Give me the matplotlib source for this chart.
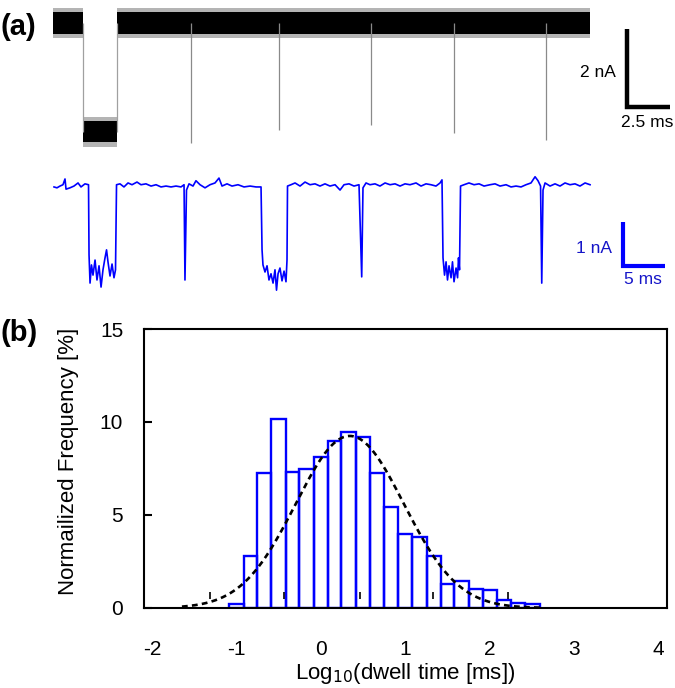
import numpy as np
import matplotlib
matplotlib.use("Agg")
import matplotlib.pyplot as plt

plt.rcParams['font.family'] = ['Liberation Sans', 'DejaVu Sans']
plt.rcParams['axes.unicode_minus'] = False

# (a) gorny slad pradu (czarny) - ms / nA
black_seg_start = [0.0, 1.73, 3.70]
black_seg_end = [1.73, 3.70, 31.04]
black_seg_level = [0.0, -2.79, 0.0]
black_noise_core = 0.27
black_noise_outer = 0.38
black_spike_t = [7.96, 13.06, 18.36, 23.18, 28.50]
black_spike_depth = [-3.08, -2.74, -2.62, -2.82, -3.00]

# (a) dolny slad pradu (niebieski) - ms / nA
blue_t = [0.0, 0.35, 0.71, 1.06, 1.30, 1.42, 1.89, 2.36, 2.84, 3.19, 3.66, 4.08,
          4.14, 4.26, 4.43, 4.61, 4.85, 5.08, 5.32, 5.56, 5.79, 6.03, 6.21, 6.38,
          6.62, 6.86, 7.09, 7.27, 7.39,
          7.80, 8.27, 8.75, 9.22, 9.81, 10.28, 10.87, 11.47, 12.06, 12.65, 13.24,
          13.83, 14.42, 15.01, 15.37,
          15.48, 15.66, 15.96, 16.43, 16.78, 17.26, 17.85, 18.44, 19.03, 19.50,
          19.86, 20.45, 21.04, 21.75, 22.46, 23.17, 23.88, 24.47,
          24.59, 24.70, 24.94, 25.18, 25.41, 25.65, 25.89, 26.12, 26.30, 26.48,
          26.71, 26.95, 27.19, 27.42, 27.54, 27.60,
          28.01, 28.49, 29.08, 29.67, 30.26, 30.85, 31.44, 32.03, 32.62, 33.22,
          33.81, 34.28, 34.87, 35.46, 36.05,
          36.37, 36.52, 36.88, 37.35, 37.94, 38.53, 39.13, 39.72, 40.31, 40.90,
          41.49, 42.08, 42.79, 43.38, 43.97, 44.56, 45.15, 45.63, 45.86,
          45.98, 46.16, 46.34, 46.51, 46.69, 46.93, 47.10, 47.28, 47.52, 47.70,
          47.81, 47.93, 48.05,
          48.46, 49.05, 49.65, 50.24, 50.83, 51.54, 52.13, 52.72, 53.43, 54.02,
          54.61, 55.20, 55.79, 56.38, 56.86, 57.21, 57.51,
          57.65, 57.80, 58.04, 58.63, 59.22, 59.81, 60.40, 60.99, 61.58, 62.17,
          62.77, 63.36]
blue_i = [0.0, -0.02, 0.02, 0.05, 0.18, -0.05, -0.02, 0.02, 0.09, 0.0, 0.07, 0.05,
          -1.53, -2.17, -1.76, -1.99, -1.65, -2.10, -1.78, -2.26, -1.87, -1.60, -1.42, -1.69,
          -2.01, -1.74, -2.05, -1.87, 0.05,
          0.07, 0.0, 0.09, 0.05, 0.11, 0.05, 0.07, 0.02, 0.05, 0.0, 0.02,
          0.0, 0.02, 0.0, 0.05,
          -2.10, -0.07, 0.07, 0.02, 0.14, 0.05, -0.02, 0.05, 0.09, 0.20,
          0.02, 0.07, 0.02, 0.05, 0.0, 0.02, 0.0, 0.0,
          -1.42, -1.76, -1.92, -1.78, -2.10, -1.96, -2.17, -1.87, -2.33, -1.96,
          -1.83, -2.12, -1.90, -2.14, -1.65, 0.02,
          0.05, 0.09, 0.02, 0.11, 0.05, 0.07, 0.02, 0.07, 0.02, 0.05,
          -0.07, 0.05, 0.07, 0.02, 0.05,
          -2.03, -0.02, 0.09, 0.05, 0.07, 0.02, 0.09, 0.05, 0.07, 0.02,
          0.07, 0.05, 0.09, 0.02, 0.07, 0.05, 0.02, 0.09, 0.16,
          -1.60, -1.99, -1.69, -2.10, -1.78, -2.05, -1.69, -2.14, -1.83, -2.05,
          -1.60, -1.87, 0.02,
          0.05, 0.09, 0.05, 0.07, 0.02, 0.05, 0.07, 0.02, 0.05, 0.0,
          0.02, 0.0, 0.05, 0.09, 0.23, 0.14, 0.02,
          -2.17, -0.07, 0.09, 0.02, 0.07, 0.02, 0.09, 0.05, 0.07, 0.02,
          0.09, 0.05]

# (b) histogram czasow przejscia
bin_edges = [-1.09, -0.92, -0.76, -0.59, -0.42, -0.26, -0.09, 0.08, 0.24, 0.41, 0.58,
             0.75, 0.91, 1.08, 1.25, 1.42, 1.58, 1.75, 1.92, 2.09, 2.25, 2.42, 2.59]
freq = [0.2, 2.8, 7.24, 10.16, 7.3, 7.47, 8.1, 9.0, 9.48, 9.18, 7.24, 5.45,
        3.98, 3.8, 2.81, 1.27, 1.45, 1.02, 0.95, 0.43, 0.29, 0.21]
# dopasowanie Gaussa
fit_amp = 9.25
fit_mu = 0.34
fit_sigma = 0.64
fit_range = (-1.65, 2.6)
marks_x = [-1.32, -0.44, 0.46, 1.33, 2.21]

fig = plt.figure(figsize=(6.75, 6.88), dpi=100)

# --- (a) czarny slad ---
ax1 = fig.add_axes([0.0785, 0.7674, 0.9215, 0.2326])
for t0, t1, lev in zip(black_seg_start, black_seg_end, black_seg_level):
    ax1.fill_between([t0, t1], lev - black_noise_outer, lev + black_noise_outer,
                     color='#b4b4b4', linewidth=0)
    ax1.fill_between([t0, t1], lev - black_noise_core, lev + black_noise_core,
                     color='black', linewidth=0)
ax1.vlines([black_seg_start[1], black_seg_end[1]], black_seg_level[1], 0,
           color='#a0a0a0', linewidth=0.9)
ax1.vlines(black_spike_t, black_spike_depth, 0, color='#8a8a8a', linewidth=0.9)
# skala 2 nA / 2.5 ms
ax1.plot([33.16, 33.16, 35.66], [-0.15, -2.15, -2.15], color='black',
         linewidth=3.2, solid_capstyle='butt', solid_joinstyle='miter')
ax1.text(32.54, -1.28, '2 nA', ha='right', va='center', fontsize=12.5)
ax1.text(34.34, -2.56, '2.5 ms', ha='center', va='center', fontsize=12.5)
ax1.set_xlim(0, 35.95)
ax1.set_ylim(-3.51, 0.59)
ax1.axis('off')

# --- (a) niebieski slad ---
ax2 = fig.add_axes([0.0785, 0.5640, 0.9215, 0.2035])
ax2.plot(blue_t, blue_i, color='#0000ff', linewidth=1.2)
ax2.plot([67.22, 67.22, 72.22], [-0.78, -1.78, -1.78], color='#0000ff',
         linewidth=3.0, solid_capstyle='butt', solid_joinstyle='miter')
ax2.text(65.92, -1.40, '1 nA', ha='right', va='center', fontsize=12.5, color='#1515c8')
ax2.text(69.62, -2.10, '5 ms', ha='center', va='center', fontsize=12.5, color='#1515c8')
ax2.set_xlim(-0.12, 73.4)
ax2.set_ylim(-2.551, 0.609)
ax2.axis('off')

# --- (b) histogram ---
ax3 = fig.add_axes([0.2133, 0.1163, 0.7748, 0.4055])
edges = np.array(bin_edges)
ax3.bar(edges[:-1], freq, width=np.diff(edges), align='edge', fill=False,
        edgecolor='#0000ff', linewidth=1.7, zorder=2)
xs = np.linspace(fit_range[0], fit_range[1], 300)
ax3.plot(xs, fit_amp * np.exp(-(xs - fit_mu) ** 2 / (2 * fit_sigma ** 2)),
         color='black', linestyle=(0, (2.2, 1.6)), linewidth=1.9, zorder=3)
ax3.vlines(marks_x, 0.47, 0.87, color='black', linewidth=1.2, zorder=3)
ax3.set_xlim(-2.1, 4.1)
ax3.set_ylim(0, 15)
ax3.set_xticks([-2, -1, 0, 1, 2, 3, 4])
ax3.set_yticks([0, 5, 10, 15])
ax3.tick_params(axis='x', length=0, pad=23, labelsize=15)
ax3.tick_params(axis='y', direction='in', length=6, width=1.5, pad=15, labelsize=15)
for s in ax3.spines.values():
    s.set_linewidth(1.5)
ax3.set_xlabel('Log$_{10}$(dwell time [ms])', fontsize=16, va='top')
ax3.xaxis.set_label_coords(0.5, -0.19)
ax3.set_ylabel('Normailized Frequency [%]', fontsize=16, ha='center', va='center')
ax3.yaxis.set_label_coords(-0.145, 0.527)

fig.text(0.0, 1 - 27 / 688, '(a)', fontsize=21, fontweight='bold', ha='left', va='center')
fig.text(0.0, 1 - 333 / 688, '(b)', fontsize=21, fontweight='bold', ha='left', va='center')

fig.savefig('out.png', dpi=100)
